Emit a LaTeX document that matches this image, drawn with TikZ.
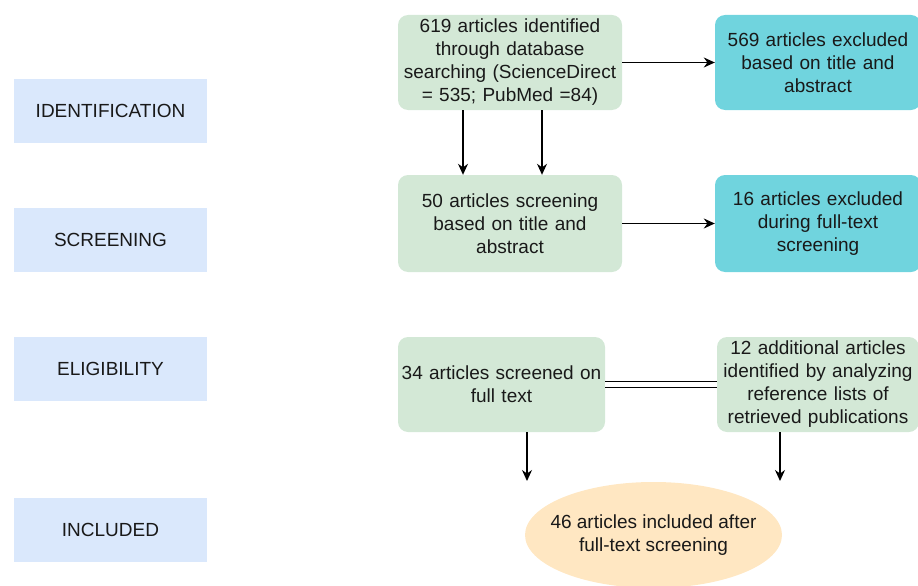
\documentclass[tikz,border=0pt]{standalone}
\usepackage{fontspec}
\setmainfont{Liberation Sans}
\usepackage{tikz}
\usetikzlibrary{arrows.meta,positioning,shapes,calc}
\definecolor{stage blue}{HTML}{DAE8FC}
\definecolor{box green}{HTML}{D3E8D6}
\definecolor{box cyan}{HTML}{70D4DE}
\definecolor{box sand}{HTML}{FFE7C2}
\tikzstyle{stage} = [fill=stage blue,minimum width=193pt,minimum height=64pt,inner sep=0pt,font=\fontsize{19}{22}\selectfont,text=black!90]
\tikzstyle{green box} = [fill=box green,rounded corners=10pt,align=center,inner sep=0pt,font=\fontsize{19}{23}\selectfont,text=black!90]
\tikzstyle{cyan box} = [green box,fill=box cyan]
\tikzstyle{flow} = [line width=1.3pt,-{Stealth[length=11pt,width=10pt]}]

\begin{document}
\begin{tikzpicture}[x=1pt,y=-1pt]
		\useasboundingbox (0,0) rectangle (918,586);
		\node[stage] (s1) at (110.5,110.5) {IDENTIFICATION};
		\node[stage] (s2) at (110.5,240) {SCREENING};
		\node[stage] (s3) at (110.5,368.5) {ELIGIBILITY};
		\node[stage] (s4) at (110.5,529.5) {INCLUDED};
		
		\node[green box,minimum width=224pt,minimum height=95pt,text width=222pt] (id) at (510,62.5) {619 articles identified\\through database\\searching (ScienceDirect\\= 535; PubMed =84)};
		\node[cyan box,minimum width=206pt,minimum height=95pt,text width=204pt] (ex1) at (818,62.5) {569 articles excluded\\based on title and\\abstract};
		\node[green box,minimum width=224pt,minimum height=97pt,text width=222pt] (scr) at (510,223.5) {50 articles screening\\based on title and\\abstract};
		\node[cyan box,minimum width=206pt,minimum height=97pt,text width=204pt] (ex2) at (818,223.5) {16 articles excluded\\during full-text\\screening};
		\node[green box,minimum width=207pt,minimum height=95pt,text width=205pt] (full) at (501.5,384.5) {34 articles screened on\\full text};
		\node[green box,minimum width=202pt,minimum height=95pt,text width=200pt] (add) at (818,384.5) {12 additional articles\\identified by analyzing\\reference lists of\\retrieved publications};
		\node[ellipse,fill=box sand,minimum width=257pt,minimum height=106pt,inner sep=0pt] (inc) at (653.5,535) {};
		\node[align=center,inner sep=0pt,font=\fontsize{19}{23}\selectfont,text=black!90] (inctext) at (inc) {46 articles included after\\full-text screening};
		
		\coordinate (e1) at (527,481);
		\coordinate (e2) at (780,481);
		\draw[flow] ([xshift=-47pt]id.south) to ([xshift=-47pt]scr.north);
		\draw[flow] ([xshift=32pt]id.south) to ([xshift=32pt]scr.north);
		\draw[flow] (id.east) to (ex1.west);
		\draw[flow] (scr.east) to (ex2.west);
		\draw[line width=1.3pt,double distance=4.5pt] (full.east) to (add.west);
		\draw[flow] (full.south -| e1) to (e1);
		\draw[flow] (add.south -| e2) to (e2);
	\end{tikzpicture}
\end{document}
